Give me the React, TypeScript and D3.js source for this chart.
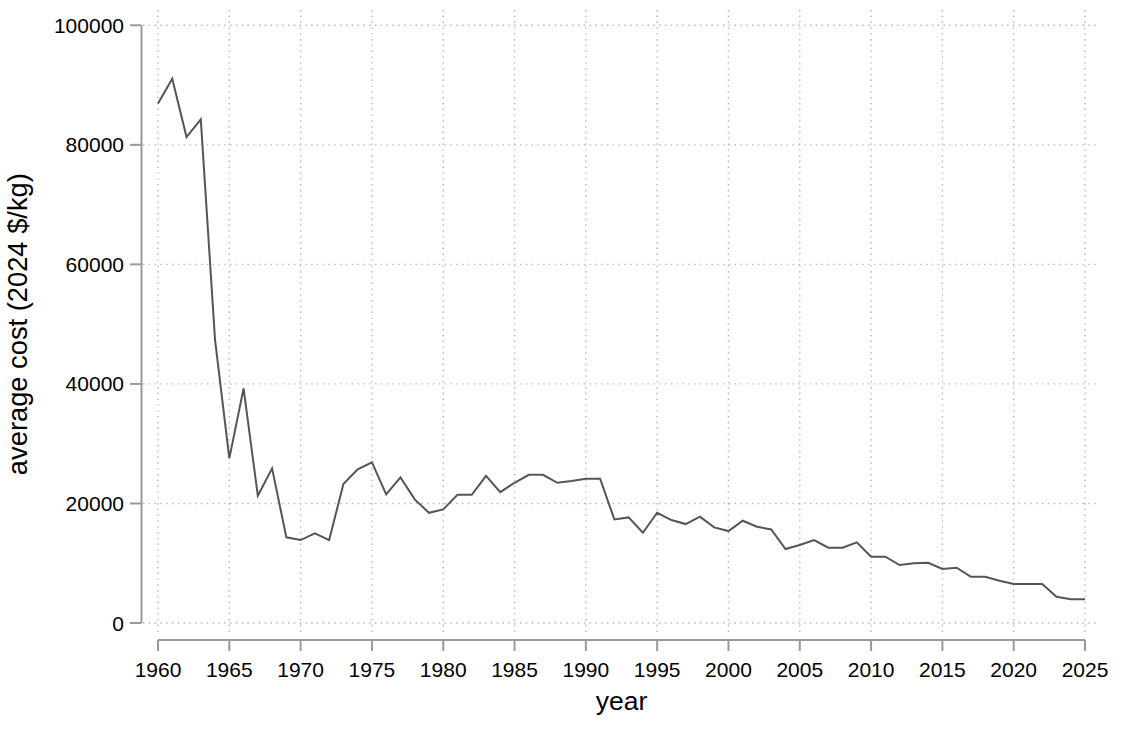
import React from "react";
import * as d3 from "d3";

const years: number[] = [
  1960, 1961, 1962, 1963, 1964, 1965, 1966, 1967, 1968, 1969,
  1970, 1971, 1972, 1973, 1974, 1975, 1976, 1977, 1978, 1979,
  1980, 1981, 1982, 1983, 1984, 1985, 1986, 1987, 1988, 1989,
  1990, 1991, 1992, 1993, 1994, 1995, 1996, 1997, 1998, 1999,
  2000, 2001, 2002, 2003, 2004, 2005, 2006, 2007, 2008, 2009,
  2010, 2011, 2012, 2013, 2014, 2015, 2016, 2017, 2018, 2019,
  2020, 2021, 2022, 2023, 2024, 2025,
];

const avgCost: number[] = [
  86900, 91070, 81310, 84270, 47350, 27540, 39240, 21290, 25870, 14330,
  13880, 15000, 13880, 23240, 25700, 26870, 21520, 24360, 20680, 18440,
  19010, 21450, 21450, 24630, 21900, 23460, 24800, 24800, 23460, 23740,
  24130, 24130, 17330, 17670, 15100, 18440, 17220, 16550, 17780, 16000,
  15380, 17110, 16100, 15660, 12370, 13040, 13880, 12590, 12590, 13490,
  11090, 11090, 9700, 9980, 10080, 9030, 9250, 7740, 7740, 7070,
  6520, 6520, 6520, 4400, 3960, 3960,
];

const xTicks: number[] = [1960, 1965, 1970, 1975, 1980, 1985, 1990, 1995, 2000, 2005, 2010, 2015, 2020, 2025];
const yTicks: number[] = [0, 20000, 40000, 60000, 80000, 100000];

const xTitle = "year";
const yTitle = "average cost (2024 $/kg)";

export default function App() {
  const W = 1130;
  const H = 730;
  const x = d3.scaleLinear().domain([1960, 2025]).range([158, 1085]);
  const y = d3.scaleLinear().domain([0, 100000]).range([623, 25.3]);

  const pts = years.map((yr, i) => [yr, avgCost[i]] as [number, number]);
  const line = d3
    .line<[number, number]>()
    .x((d) => x(d[0]))
    .y((d) => y(d[1]));

  const axisColor = "#9a9a9a";
  const gridColor = "#b4b4b4";
  const font = "'Liberation Sans', Arial, sans-serif";
  const yAxisX = 141.5;
  const xAxisY = 640;

  return (
    <svg
      width={W}
      height={H}
      style={{ position: "absolute", left: 0, top: 0, background: "#fff" }}
      fontFamily={font}
    >
      <rect x={0} y={0} width={W} height={H} fill="#fff" />
      {yTicks.map((t) => (
        <line
          key={"hg" + t}
          x1={143}
          x2={1100}
          y1={y(t)}
          y2={y(t)}
          stroke={gridColor}
          strokeWidth={1.4}
          strokeDasharray="1.4 4.4"
        />
      ))}
      {xTicks.map((t) => (
        <line
          key={"vg" + t}
          x1={x(t)}
          x2={x(t)}
          y1={10}
          y2={634}
          stroke={gridColor}
          strokeWidth={1.4}
          strokeDasharray="1.4 4.4"
        />
      ))}
      <line x1={yAxisX} x2={yAxisX} y1={y(100000)} y2={y(0)} stroke={axisColor} strokeWidth={2} />
      {yTicks.map((t) => (
        <g key={"yt" + t}>
          <line x1={130} x2={yAxisX} y1={y(t)} y2={y(t)} stroke={axisColor} strokeWidth={2} />
          <text x={124} y={y(t)} dy="0.36em" textAnchor="end" fontSize={21} fill="#000">
            {t}
          </text>
        </g>
      ))}
      <line x1={x(1960)} x2={x(2025)} y1={xAxisY} y2={xAxisY} stroke={axisColor} strokeWidth={2} />
      {xTicks.map((t) => (
        <g key={"xt" + t}>
          <line x1={x(t)} x2={x(t)} y1={xAxisY} y2={651} stroke={axisColor} strokeWidth={2} />
          <text x={x(t)} y={676.5} textAnchor="middle" fontSize={21} fill="#000">
            {t}
          </text>
        </g>
      ))}
      <text x={(x(1960) + x(2025)) / 2} y={710} textAnchor="middle" fontSize={26.5} fill="#000">
        {xTitle}
      </text>
      <text
        transform={`translate(27, ${(y(0) + y(100000)) / 2}) rotate(-90)`}
        textAnchor="middle"
        fontSize={27.3}
        fill="#000"
      >
        {yTitle}
      </text>
      <path d={line(pts) || ""} fill="none" stroke="#555555" strokeWidth={2} strokeLinejoin="miter" />
    </svg>
  );
}
